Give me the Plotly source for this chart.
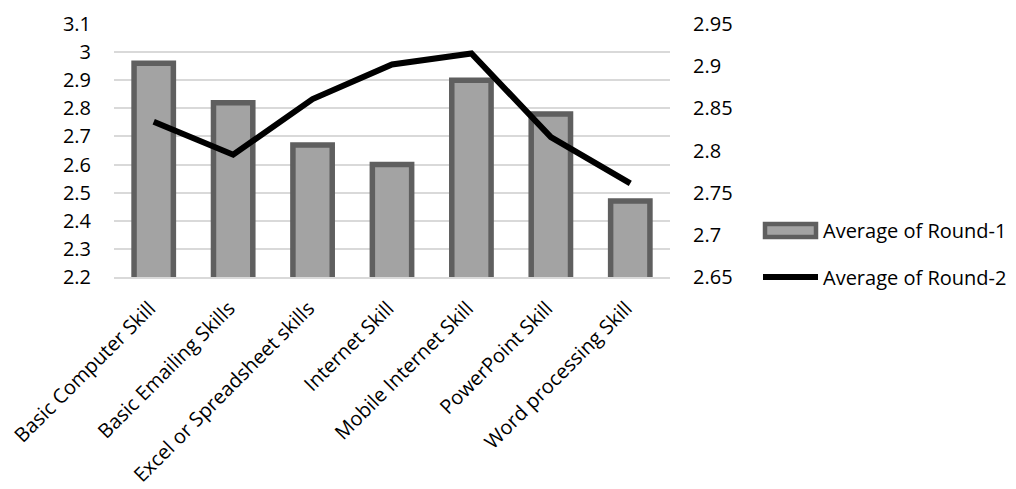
import plotly.graph_objects as go

categories = ["Basic Computer Skill", "Basic Emailing Skills", "Excel or Spreadsheet skills",
              "Internet Skill", "Mobile Internet Skill", "PowerPoint Skill", "Word processing Skill"]
round1 = [2.96, 2.82, 2.67, 2.60, 2.90, 2.78, 2.47]
round2 = [2.834, 2.795, 2.861, 2.902, 2.915, 2.816, 2.761]

left_ticks = [2.2, 2.3, 2.4, 2.5, 2.6, 2.7, 2.8, 2.9, 3.0, 3.1]
left_labels = ["2.2", "2.3", "2.4", "2.5", "2.6", "2.7", "2.8", "2.9", "3", "3.1"]
right_ticks = [2.65, 2.70, 2.75, 2.80, 2.85, 2.90, 2.95]
right_labels = ["2.65", "2.7", "2.75", "2.8", "2.85", "2.9", "2.95"]
series_names = ["Average of Round-1", "Average of Round-2"]

FONT = "Open Sans"
FS = 20
TXT = "#000000"
W, H = 1016, 489
L, R, T, B = 114, 346, 24, 212
pw, ph = W - L - R, H - T - B

def px(x):
    return (x - L) / pw

def py(y):
    return (H - B - y) / ph

fig = go.Figure()
fig.add_trace(go.Bar(
    x=categories, y=round1, name=series_names[0],
    base=0, width=0.495,
    marker=dict(color="#a3a3a3", line=dict(color="#5f5f5f", width=5.5)),
    showlegend=False, yaxis="y"))
fig.add_trace(go.Scatter(
    x=categories, y=round2, name=series_names[1], mode="lines",
    line=dict(color="#000000", width=6), showlegend=False, yaxis="y2"))

# manual legend
shapes = [
    dict(type="rect", xref="paper", yref="paper",
         x0=px(765), x1=px(816), y0=py(237), y1=py(224),
         fillcolor="#a3a3a3", line=dict(color="#5f5f5f", width=4.5)),
    dict(type="line", xref="paper", yref="paper",
         x0=px(763), x1=px(818), y0=py(277), y1=py(277),
         line=dict(color="#000000", width=6)),
]
annotations = [
    dict(x=px(821), y=py(231), xref="paper", yref="paper", text=series_names[0],
         showarrow=False, xanchor="left", yanchor="middle",
         font=dict(family=FONT, size=FS, color=TXT)),
    dict(x=px(821), y=py(277), xref="paper", yref="paper", text=series_names[1],
         showarrow=False, xanchor="left", yanchor="middle",
         font=dict(family=FONT, size=FS, color=TXT)),
]

fig.update_layout(
    width=W, height=H,
    margin=dict(l=L, r=R, t=T, b=B, autoexpand=False),
    paper_bgcolor="white", plot_bgcolor="white",
    font=dict(family=FONT, size=FS, color=TXT),
    bargap=0.5,
    shapes=shapes, annotations=annotations,
    xaxis=dict(tickangle=-45, showgrid=False, ticks="", showline=True,
               linecolor="#d9d9d9", linewidth=1.5,
               ticklabelstandoff=10, ticklabelshift=-4,
               tickfont=dict(family=FONT, size=FS, color=TXT)),
    yaxis=dict(range=[2.2, 3.1], tickvals=left_ticks, ticktext=left_labels,
               showgrid=True, gridcolor="#d9d9d9", gridwidth=1.5,
               zeroline=False, ticks="", ticklabelstandoff=22,
               tickfont=dict(family=FONT, size=FS, color=TXT)),
    yaxis2=dict(range=[2.65, 2.95], tickvals=right_ticks, ticktext=right_labels,
                overlaying="y", side="right", showgrid=False, zeroline=False,
                ticks="", ticklabelstandoff=22,
                tickfont=dict(family=FONT, size=FS, color=TXT)),
)

fig.write_html("out.html")
